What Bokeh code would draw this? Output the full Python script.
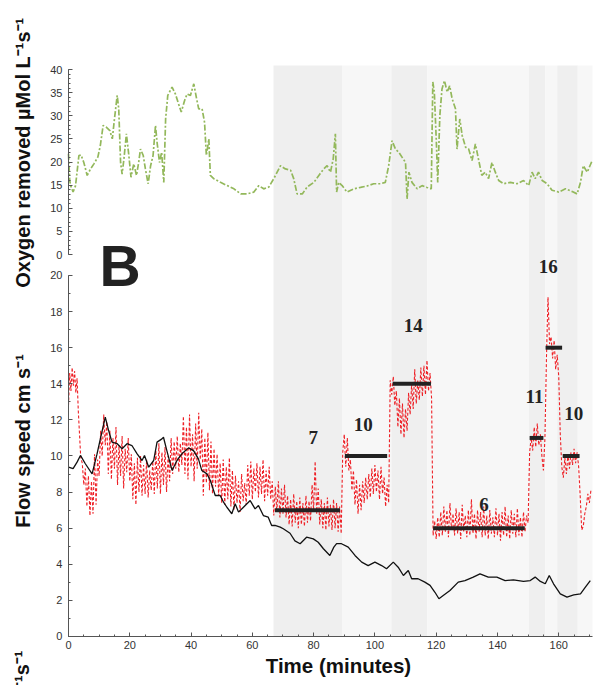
from bokeh.core.properties import value
from bokeh.embed import file_html
from bokeh.models import Label, LinearAxis, Range1d, SingleIntervalTicker
from bokeh.plotting import figure
from bokeh.resources import INLINE

# ---------------------------------------------------------------- data
time_end = 171  # last minute on the time axis

# flow-treatment periods (minutes); alternate periods are shaded darker
period_start = [66.9, 89.3, 105.4, 117.1, 150.2, 155.6, 159.5, 166.2]
period_end = [89.3, 105.4, 117.1, 150.2, 155.6, 159.5, 166.2, 171.0]

# oxygen removed (µMol L-1 s-1) as (minute, value)
oxygen_removed = [
    (0.0, 21.8), (0.4, 16.0), (0.7, 14.9), (1.5, 13.5), (2.3, 14.9), (3.4, 21.4),
    (4.1, 21.5), (5.0, 19.9), (6.1, 17.1), (7.2, 18.5), (8.3, 19.6), (9.6, 21.1),
    (10.4, 23.6), (11.3, 27.9), (12.4, 27.5), (13.5, 26.8), (14.3, 25.0),
    (15.0, 29.3), (15.9, 34.4), (16.4, 31.5), (17.0, 19.9), (17.5, 17.4),
    (18.1, 20.7), (18.9, 26.1), (19.7, 21.4), (20.4, 16.7), (21.3, 19.6),
    (22.2, 17.1), (22.9, 19.9), (23.5, 22.8), (24.4, 21.4), (25.1, 18.5),
    (26.0, 15.3), (26.8, 19.2), (27.6, 21.4), (28.4, 27.9), (28.9, 24.3),
    (29.7, 19.9), (30.4, 22.1), (31.1, 15.6), (31.7, 29.3), (32.4, 34.4),
    (33.8, 36.2), (34.9, 34.7), (35.9, 32.6), (36.8, 30.8), (37.9, 33.3),
    (38.7, 34.7), (39.8, 34.4), (40.9, 36.9), (41.8, 33.7), (42.5, 31.5),
    (43.6, 31.5), (44.4, 28.6), (45.0, 21.4), (45.8, 25.0), (46.3, 17.1),
    (47.4, 16.4), (49.6, 15.6), (51.8, 14.9), (54.0, 14.2), (56.2, 13.1),
    (58.3, 13.1), (60.5, 13.5), (62.1, 14.9), (63.7, 14.2), (65.4, 14.6),
    (67.0, 16.4), (68.1, 17.8), (69.2, 19.2), (70.8, 18.5), (72.5, 18.2),
    (73.5, 16.4), (74.6, 13.1), (76.3, 13.1), (77.9, 14.6), (80.1, 15.6),
    (81.7, 17.1), (83.3, 18.5), (84.4, 19.2), (85.5, 17.8), (86.4, 20.7),
    (87.1, 26.1), (87.5, 13.5), (88.2, 15.6), (89.3, 14.9), (90.9, 13.5),
    (93.1, 14.2), (95.3, 14.5), (97.4, 14.8), (99.6, 15.3), (101.8, 15.3),
    (103.4, 15.6), (104.5, 19.2), (105.6, 24.6), (106.7, 22.8), (107.8, 22.1),
    (108.9, 21.0), (110.0, 19.9), (110.5, 12.0), (111.1, 17.8), (112.1, 15.6),
    (113.8, 14.2), (115.4, 14.9), (117.0, 14.5), (118.4, 14.2), (118.9, 37.3),
    (119.4, 35.1), (120.1, 23.6), (120.5, 15.6), (121.2, 30.1), (121.9, 35.8),
    (122.7, 37.6), (123.6, 35.1), (124.4, 36.5), (125.2, 33.7), (126.3, 31.5),
    (126.8, 22.8), (127.7, 29.3), (128.5, 25.7), (129.6, 23.2), (130.6, 22.8),
    (131.7, 20.3), (132.8, 23.9), (133.9, 20.3), (134.9, 17.1), (136.0, 17.8),
    (137.1, 16.4), (138.2, 19.9), (139.3, 17.8), (140.4, 16.0), (142.0, 15.3),
    (144.2, 15.6), (146.4, 15.3), (148.5, 16.0), (150.2, 14.9), (151.3, 17.8),
    (152.3, 16.4), (153.4, 17.8), (154.6, 16.0), (156.2, 15.3), (157.8, 13.9),
    (160.0, 13.5), (162.2, 14.2), (164.4, 13.6), (166.0, 13.1), (167.1, 15.6),
    (168.0, 19.2), (169.3, 17.8), (170.9, 20.3),
]

# measured flow speed (cm s-1) as (minute, value)
flow_measured = [
    (0.0, 12.8), (0.4, 14.6), (0.8, 13.6), (1.2, 14.9), (1.6, 13.9), (2.0, 14.7),
    (2.4, 13.5), (2.8, 14.3), (3.2, 12.5), (3.6, 11.2), (4.0, 9.9),
    (4.5, 9.6), (5.0, 8.4), (5.5, 9.3), (6.0, 7.2), (6.5, 8.9), (7.0, 6.7),
    (7.5, 8.6), (8.0, 6.8), (8.5, 10.1), (9.0, 7.3), (9.5, 9.8), (10.0, 8.9),
    (10.5, 11.4), (11.0, 10.0), (11.5, 12.3), (12.0, 10.6), (12.5, 11.9),
    (13.0, 9.0), (13.5, 11.4), (14.0, 8.7), (14.5, 11.0), (15.0, 9.3),
    (15.5, 11.6), (16.0, 8.4), (16.5, 10.6), (17.0, 8.9), (17.5, 11.1),
    (18.0, 8.2), (18.5, 10.4), (19.0, 9.1), (19.5, 11.0), (20.0, 8.6),
    (20.5, 10.1), (21.0, 7.6), (21.5, 9.6), (22.0, 7.3), (22.5, 9.9),
    (23.0, 8.0), (23.5, 10.0), (24.0, 7.8), (24.5, 9.5), (25.0, 7.9),
    (25.5, 9.8), (26.0, 7.7), (26.5, 9.2), (27.0, 8.1), (27.5, 9.7),
    (28.0, 7.9), (28.5, 10.3), (29.0, 8.2), (29.5, 10.7), (30.0, 7.9),
    (30.5, 10.2), (31.0, 8.4), (31.5, 10.5), (32.0, 8.0), (32.5, 10.0),
    (33.0, 8.6), (33.5, 11.0), (34.0, 9.0), (34.5, 10.8), (35.0, 9.3),
    (35.5, 11.1), (36.0, 9.1), (36.5, 10.7), (37.0, 9.5), (37.5, 12.2),
    (38.0, 9.0), (38.5, 11.6), (39.0, 8.7), (39.5, 12.3), (40.0, 9.4),
    (40.5, 11.2), (41.0, 8.6), (41.5, 11.8), (42.0, 9.3), (42.5, 12.4),
    (43.0, 9.8), (43.5, 11.5), (44.0, 7.8), (44.5, 11.0), (45.0, 8.5),
    (45.5, 11.3), (46.0, 8.1), (46.5, 10.8), (47.0, 7.9), (47.5, 10.4),
    (48.0, 8.3), (48.5, 10.1), (49.0, 7.8), (49.5, 9.6), (50.0, 7.4),
    (50.5, 9.8), (51.0, 7.3), (51.5, 9.4), (52.0, 7.6), (52.5, 9.9),
    (53.0, 7.2), (53.5, 9.2), (54.0, 7.0), (54.5, 8.9), (55.0, 7.4),
    (55.5, 8.6), (56.0, 6.9), (56.5, 9.0), (57.0, 7.5), (57.5, 8.5),
    (58.0, 7.3), (58.5, 9.5), (59.0, 7.8), (59.5, 9.7), (60.0, 7.6),
    (60.5, 9.3), (61.0, 8.0), (61.5, 9.6), (62.0, 7.7), (62.5, 9.4),
    (63.0, 7.9), (63.5, 9.8), (64.0, 7.5), (64.5, 9.2), (65.0, 7.8),
    (65.5, 9.4), (66.0, 7.6), (66.5, 8.6), (67.0, 6.7), (67.5, 8.3),
    (68.0, 6.9), (68.5, 8.6), (69.0, 6.6), (69.5, 8.2), (70.0, 6.8),
    (70.5, 8.4), (71.0, 6.6), (71.5, 7.8), (72.0, 6.2), (72.5, 7.6),
    (73.0, 6.1), (73.5, 7.9), (74.0, 6.3), (74.5, 7.5), (75.0, 6.0),
    (75.5, 7.7), (76.0, 6.2), (76.5, 7.4), (77.0, 6.1), (77.5, 7.8),
    (78.0, 6.3), (78.5, 7.5), (79.0, 6.4), (79.5, 8.4), (80.0, 7.0),
    (80.5, 9.7), (81.0, 6.8), (81.5, 8.2), (82.0, 6.2), (82.5, 7.6),
    (83.0, 6.0), (83.5, 7.4), (84.0, 5.9), (84.5, 7.7), (85.0, 6.1),
    (85.5, 7.3), (86.0, 5.9), (86.5, 7.6), (87.0, 6.0), (87.5, 7.4),
    (88.0, 5.8), (88.5, 7.2), (89.0, 5.7), (89.5, 10.2), (90.0, 11.2),
    (90.5, 9.4), (91.0, 11.0), (91.5, 9.2), (92.0, 9.8), (92.5, 8.1),
    (93.0, 9.2), (93.5, 7.3), (94.0, 8.7), (94.5, 6.8), (95.0, 8.4),
    (95.5, 7.0), (96.0, 8.6), (96.5, 7.4), (97.0, 8.8), (97.5, 7.6),
    (98.0, 9.0), (98.5, 7.7), (99.0, 9.3), (99.5, 7.9), (100.0, 9.5),
    (100.5, 8.0), (101.0, 9.2), (101.5, 7.6), (102.0, 9.4), (102.5, 7.9),
    (103.0, 8.8), (103.5, 7.2), (104.0, 8.4), (104.5, 7.4), (105.0, 14.2),
    (105.5, 13.4), (106.0, 14.4), (106.5, 12.8), (107.0, 13.6), (107.5, 11.6),
    (108.0, 13.2), (108.5, 11.2), (109.0, 12.9), (109.5, 11.0), (110.0, 12.6),
    (110.5, 11.4), (111.0, 13.5), (111.5, 12.3), (112.0, 14.0), (112.5, 12.6),
    (113.0, 14.8), (113.5, 12.9), (114.0, 14.2), (114.5, 13.1), (115.0, 14.9),
    (115.5, 13.3), (116.0, 15.0), (116.5, 13.4), (117.0, 15.3), (117.5, 13.6),
    (118.0, 14.6), (118.5, 13.2), (119.0, 5.6), (119.5, 6.4), (120.0, 5.4),
    (120.5, 6.6), (121.0, 5.5), (121.5, 6.9), (122.0, 5.6), (122.5, 7.2),
    (123.0, 5.8), (123.5, 7.0), (124.0, 5.5), (124.5, 7.4), (125.0, 5.9),
    (125.5, 6.8), (126.0, 5.6), (126.5, 7.1), (127.0, 5.7), (127.5, 6.9),
    (128.0, 5.4), (128.5, 7.3), (129.0, 5.8), (129.5, 6.7), (130.0, 5.5),
    (130.5, 7.0), (131.0, 5.6), (131.5, 7.6), (132.0, 5.7), (132.5, 6.8),
    (133.0, 5.4), (133.5, 7.0), (134.0, 5.8), (134.5, 6.9), (135.0, 5.5),
    (135.5, 7.2), (136.0, 5.6), (136.5, 6.7), (137.0, 5.4), (137.5, 7.0),
    (138.0, 5.7), (138.5, 6.6), (139.0, 5.5), (139.5, 7.1), (140.0, 5.6),
    (140.5, 6.8), (141.0, 5.3), (141.5, 6.9), (142.0, 5.6), (142.5, 7.2),
    (143.0, 5.5), (143.5, 6.7), (144.0, 5.4), (144.5, 7.0), (145.0, 5.7),
    (145.5, 6.8), (146.0, 5.5), (146.5, 7.1), (147.0, 5.6), (147.5, 6.6),
    (148.0, 5.5), (148.5, 6.9), (149.0, 5.8), (149.5, 6.7), (150.0, 6.3),
    (150.5, 10.2), (151.0, 11.0), (151.5, 10.3), (152.0, 11.6), (152.5, 10.5),
    (153.0, 11.8), (153.5, 10.6), (154.0, 11.2), (154.5, 10.0), (155.0, 9.2),
    (155.5, 11.0), (156.0, 15.5), (156.5, 18.8), (157.0, 16.2), (157.5, 16.6),
    (158.0, 15.4), (158.5, 16.4), (159.0, 14.8), (159.5, 15.6), (160.0, 14.4),
    (160.5, 11.2), (161.0, 9.4), (161.5, 8.8), (162.0, 9.9), (162.5, 9.0),
    (163.0, 10.1), (163.5, 9.3), (164.0, 10.2), (164.5, 9.5), (165.0, 10.4),
    (165.5, 9.6), (166.0, 10.2), (166.5, 9.4), (167.0, 7.8), (167.5, 5.9),
    (168.0, 6.1), (168.5, 6.8), (169.0, 7.2), (169.5, 7.9), (170.0, 7.4),
    (170.5, 8.1),
]

# running mean of flow speed (cm s-1) as (minute, value)
flow_smoothed = [
    (0.0, 9.38), (1.5, 9.3), (2.8, 9.66), (3.9, 10.03), (5.5, 9.57), (7.7, 9.01),
    (9.3, 10.1), (10.4, 10.95), (12.0, 12.15), (13.1, 11.41), (14.2, 10.77),
    (15.9, 10.68), (17.5, 10.4), (19.1, 10.68), (20.7, 10.58), (22.4, 10.12),
    (24.0, 9.75), (24.8, 10.03), (26.2, 9.38), (27.8, 9.75), (28.9, 10.77),
    (30.5, 10.95), (31.0, 11.04), (32.1, 10.3), (33.8, 9.2), (35.4, 9.75),
    (37.0, 10.12), (39.2, 10.45), (40.8, 10.3), (42.4, 9.84), (43.5, 9.2),
    (45.2, 9.01), (46.3, 8.64), (47.9, 7.81), (49.5, 7.81), (50.6, 7.44),
    (51.7, 7.16), (53.3, 6.8), (54.4, 7.35), (55.5, 6.89), (57.1, 7.16),
    (59.3, 7.53), (60.9, 7.07), (62.0, 7.26), (63.6, 6.7), (65.2, 6.61),
    (66.3, 6.15), (67.4, 6.15), (69.1, 6.06), (70.1, 5.97), (72.3, 5.72),
    (73.9, 5.3), (75.6, 5.14), (77.7, 5.5), (79.9, 5.41), (81.5, 5.22),
    (83.2, 4.86), (85.3, 4.49), (86.6, 4.95), (87.5, 5.14), (89.1, 5.14),
    (91.3, 4.95), (93.5, 4.49), (95.7, 4.12), (97.8, 3.93), (100.0, 4.12),
    (102.2, 3.93), (103.8, 3.75), (106.0, 4.12), (107.6, 3.84), (109.3, 3.38),
    (110.9, 3.66), (112.0, 3.2), (114.1, 3.2), (116.3, 3.01), (118.0, 2.83),
    (119.6, 2.45), (120.9, 2.09), (122.3, 2.27), (124.5, 2.55), (127.2, 3.01),
    (129.4, 3.1), (132.1, 3.29), (134.3, 3.47), (137.0, 3.29), (139.8, 3.29),
    (142.5, 3.1), (145.2, 3.14), (148.5, 3.05), (150.7, 3.1), (152.3, 3.29),
    (154.0, 3.05), (155.6, 2.92), (156.9, 3.38), (158.3, 2.92), (160.5, 2.36),
    (162.7, 2.18), (164.9, 2.31), (167.1, 2.36), (168.7, 2.73), (170.3, 3.1),
]

# set flow speeds (cm s-1) for each treatment period
setpoint_start = [67.4, 90.2, 105.8, 119.0, 150.5, 155.7, 161.3]
setpoint_end = [88.6, 104.0, 118.3, 148.9, 155.0, 161.1, 166.8]
setpoint_speed = [7, 10, 14, 6, 11, 16, 10]
# where each set-speed number is written
setpoint_label_t = [79.9, 96.2, 112.5, 135.6, 152.1, 156.6, 164.9]
setpoint_label_flow = [11.04, 11.73, 17.23, 7.3, 13.31, 20.5, 12.37]

# ---------------------------------------------------------------- styling
SANS = "Liberation Sans"
SERIF = "Liberation Serif"
SHADE_DARK = "#efefef"
SHADE_LIGHT = "#f7f7f7"
shade_colors = [SHADE_DARK if i % 2 == 0 else SHADE_LIGHT for i in range(len(period_start))]
OXY_LABEL = "Oxygen removed µMol L\u207b\u00b9s\u207b\u00b9"
FLOW_LABEL = "Flow speed cm s\u207b\u00b9"


def style_axis(ax):
    ax.major_label_text_font = SANS
    ax.major_label_text_font_size = "11px"
    ax.major_label_text_color = "#333333"
    ax.major_label_standoff = 6
    ax.axis_line_color = "#555555"
    ax.major_tick_line_color = "#555555"
    ax.minor_tick_line_color = "#555555"
    ax.major_tick_in = 4
    ax.major_tick_out = 0
    ax.minor_tick_in = 2
    ax.minor_tick_out = 0


# One drawing area holds both panels.  Its ranges reach past the plotted data
# so that the axes (pinned at t = 0 and flow = 0) and their titles sit inside
# it; the oxygen panel uses its own y range ("oxy") above the flow panel.
p = figure(
    width=597, height=685, title=None,
    x_range=Range1d(-22.19, 172.65), y_range=Range1d(-2.715, 35.235),
    x_axis_location=None, y_axis_location=None,
    output_backend="svg", toolbar_location=None,
    min_border_left=0, min_border_right=0, min_border_top=0, min_border_bottom=0,
)
p.extra_y_ranges = {"oxy": Range1d(-93.19, 54.92)}
p.outline_line_color = None
p.xgrid.grid_line_color = None
p.ygrid.grid_line_color = None

# treatment periods, spanning both panels
p.quad(left=period_start, right=period_end, bottom=0, top=31.63,
       fill_color=shade_colors, line_color=None)

# oxygen removed
p.line([t for t, _ in oxygen_removed], [v for _, v in oxygen_removed], y_range_name="oxy",
       line_color="#93b85b", line_width=1.7, line_dash="6 2 2 2")

# flow speed
p.line([t for t, _ in flow_measured], [v for _, v in flow_measured],
       line_color="#ee2026", line_width=1.1, line_dash="3 2")
p.line([t for t, _ in flow_smoothed], [v for _, v in flow_smoothed],
       line_color="#111111", line_width=1.3)
p.segment(x0=setpoint_start, x1=setpoint_end, y0=setpoint_speed, y1=setpoint_speed,
          line_color="#222222", line_width=4)
p.text(x=setpoint_label_t, y=setpoint_label_flow, text=[str(s) for s in setpoint_speed],
       text_font=value(SERIF), text_font_style="bold", text_font_size="19px",
       text_color="#222222", text_align="center", text_baseline="middle")

# axes, pinned at t = 0 / flow = 0
flow_axis = LinearAxis(bounds=(0, 20), fixed_location=0,
                       ticker=SingleIntervalTicker(interval=2, num_minor_ticks=2))
style_axis(flow_axis)
p.add_layout(flow_axis, "left")

oxy_axis = LinearAxis(y_range_name="oxy", bounds=(0, 40), fixed_location=0,
                      ticker=SingleIntervalTicker(interval=5, num_minor_ticks=5))
style_axis(oxy_axis)
p.add_layout(oxy_axis, "left")

time_axis = LinearAxis(bounds=(0, time_end), fixed_location=0,
                       ticker=SingleIntervalTicker(interval=20, num_minor_ticks=4))
style_axis(time_axis)
time_axis.major_label_standoff = 5
p.add_layout(time_axis, "below")

# axis titles, the panel letter, and the neighbouring panel's title
title_style = dict(text_font=SANS, text_font_style="bold", text_font_size="20px",
                   text_color="#111111", text_baseline="middle")
p.add_layout(Label(x=-15.0, y=26.8, text=OXY_LABEL, angle=90, angle_units="deg",
                   text_align="center", **title_style))
p.add_layout(Label(x=-15.0, y=10.83, text=FLOW_LABEL, angle=90, angle_units="deg",
                   text_align="center", **title_style))
p.add_layout(Label(x=-15.3, y=-0.78, text=OXY_LABEL, angle=90, angle_units="deg",
                   text_align="right", **title_style))
p.add_layout(Label(x=88.1, y=-1.61, text="Time (minutes)", text_align="center",
                   text_font=SANS, text_font_style="bold", text_font_size="20.5px",
                   text_color="#111111", text_baseline="middle"))
p.add_layout(Label(x=10.1, y=20.52, text="B", text_font=SANS, text_font_style="bold",
                   text_font_size="57px", text_color="#222222", text_baseline="alphabetic"))

open("out.html", "w").write(file_html(p, INLINE))
